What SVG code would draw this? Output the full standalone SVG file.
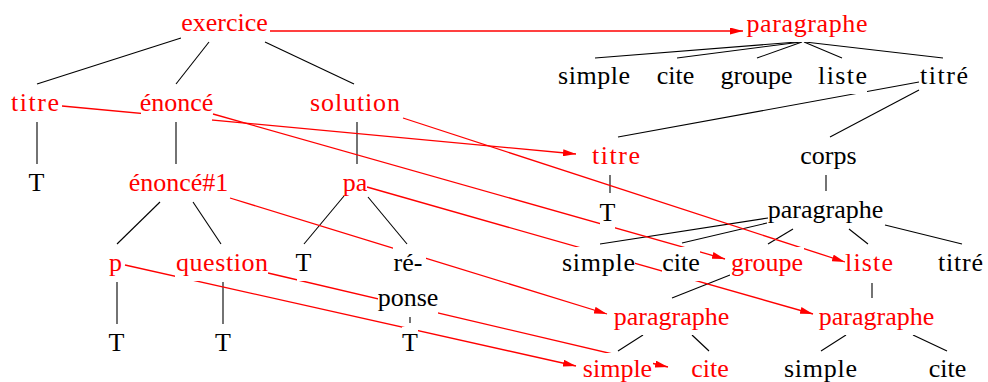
<svg xmlns="http://www.w3.org/2000/svg" width="988" height="382" viewBox="0 0 988 382">
<style>
text{font-family:"Liberation Serif","Times New Roman",serif;font-size:26px;text-anchor:middle;fill:#000}
.r{fill:#f00}
.bg{fill:#fff}
.e{stroke:#000;stroke-width:1.1;fill:none}
.a{stroke:#f00;stroke-width:1.3;fill:none;marker-end:url(#ah)}
</style>
<defs>
<marker id="ah" markerUnits="userSpaceOnUse" viewBox="0 0 13 7" refX="13" refY="3.5" markerWidth="13" markerHeight="7" orient="auto">
<path d="M0,0 L13,3.5 L0,7 z" fill="#f00"/>
</marker>
</defs>
<rect width="988" height="382" fill="#fff"/>
<g id="connectors">
<line class="e" x1="181" y1="38" x2="37" y2="84"/>
<line class="e" x1="209" y1="42" x2="176" y2="84"/>
<line class="e" x1="265" y1="42" x2="354" y2="84"/>
<line class="e" x1="797" y1="42" x2="595" y2="58"/>
<line class="e" x1="801" y1="42" x2="677" y2="58"/>
<line class="e" x1="802" y1="42" x2="757" y2="58"/>
<line class="e" x1="804" y1="42" x2="842" y2="58"/>
<line class="e" x1="805" y1="42" x2="943" y2="58"/>
<line class="e" x1="919" y1="82" x2="618" y2="137"/>
<line class="e" x1="919" y1="90" x2="830" y2="137"/>
<line class="e" x1="610" y1="175" x2="610" y2="193"/>
<line class="e" x1="826" y1="175" x2="826" y2="191"/>
<line class="e" x1="768" y1="218" x2="600" y2="244"/>
<line class="e" x1="767" y1="223" x2="682" y2="243"/>
<line class="e" x1="793" y1="229" x2="768" y2="244"/>
<line class="e" x1="849" y1="229" x2="868" y2="244"/>
<line class="e" x1="885" y1="225" x2="962" y2="244"/>
<line class="e" x1="730" y1="275" x2="672" y2="298"/>
<line class="e" x1="872" y1="283" x2="872" y2="298"/>
<line class="e" x1="643" y1="335" x2="618" y2="351"/>
<line class="e" x1="692" y1="335" x2="709" y2="351"/>
<line class="e" x1="846" y1="335" x2="821" y2="351"/>
<line class="e" x1="913" y1="335" x2="947" y2="351"/>
<line class="e" x1="37" y1="122" x2="37" y2="164"/>
<line class="e" x1="176" y1="122" x2="176" y2="164"/>
<line class="e" x1="357" y1="122" x2="357" y2="164"/>
<line class="e" x1="160" y1="202" x2="117" y2="244"/>
<line class="e" x1="193" y1="202" x2="221" y2="244"/>
<line class="e" x1="344" y1="196" x2="304" y2="244"/>
<line class="e" x1="368" y1="197" x2="407" y2="244"/>
<line class="e" x1="117" y1="282" x2="117" y2="324"/>
<line class="e" x1="223" y1="282" x2="223" y2="324"/>
<line class="e" x1="410" y1="317" x2="410" y2="323"/>
<line class="a" x1="270" y1="31" x2="743" y2="31"/>
<line class="a" x1="62" y1="106" x2="576" y2="154"/>
<line class="a" x1="213" y1="114" x2="725" y2="259"/>
<line class="a" x1="403" y1="118" x2="845" y2="262"/>
<line class="a" x1="230" y1="198" x2="607" y2="314"/>
<line class="a" x1="367" y1="187" x2="813" y2="314"/>
<line class="a" x1="125" y1="265" x2="576" y2="366"/>
<line class="a" x1="268" y1="273" x2="668" y2="367"/>
</g>
<g id="n-exercice"><rect class="bg" x="181" y="7" width="87" height="34"/><text class="r" x="224.5" y="31">exercice</text></g>
<g id="n-paragraphe0"><rect class="bg" x="746" y="8" width="122" height="34"/><text class="r" x="807" y="32" textLength="121" lengthAdjust="spacing">paragraphe</text></g>
<g id="n-titre"><rect class="bg" x="11" y="87" width="48" height="34"/><text class="r" x="35" y="111" textLength="48" lengthAdjust="spacing">titre</text></g>
<g id="n-enonce"><rect class="bg" x="141" y="87" width="71" height="34"/><text class="r" x="176.5" y="111">énoncé</text></g>
<g id="n-solution"><rect class="bg" x="310" y="87" width="90" height="34"/><text class="r" x="355" y="111" textLength="90" lengthAdjust="spacing">solution</text></g>
<g id="n-p0-simple"><rect class="bg" x="558" y="60" width="72" height="34"/><text x="594" y="84" textLength="72" lengthAdjust="spacing">simple</text></g>
<g id="n-p0-cite"><rect class="bg" x="657" y="60" width="37" height="34"/><text x="675.5" y="84">cite</text></g>
<g id="n-p0-groupe"><rect class="bg" x="720" y="60" width="73" height="34"/><text x="756.5" y="84">groupe</text></g>
<g id="n-p0-liste"><rect class="bg" x="818" y="60" width="49" height="34"/><text x="842.5" y="84" textLength="49" lengthAdjust="spacing">liste</text></g>
<g id="n-p0-titre"><rect class="bg" x="920" y="60" width="48" height="34"/><text x="944" y="84" textLength="48" lengthAdjust="spacing">titré</text></g>
<g id="n-titre2"><rect class="bg" x="592" y="140" width="48" height="34"/><text class="r" x="616" y="164" textLength="48" lengthAdjust="spacing">titre</text></g>
<g id="n-corps"><rect class="bg" x="800" y="140" width="57" height="34"/><text x="828.5" y="164">corps</text></g>
<g id="n-titre-T"><rect class="bg" x="28" y="167" width="17" height="34"/><text x="36.5" y="191">T</text></g>
<g id="n-enonce1"><rect class="bg" x="130" y="167" width="97" height="34"/><text class="r" x="178.5" y="191">énoncé#1</text></g>
<g id="n-pa"><rect class="bg" x="343" y="167" width="24" height="29"/><text class="r" x="355" y="191">pa</text></g>
<g id="n-titre2-T"><rect class="bg" x="600" y="197" width="15" height="34"/><text x="607.5" y="221">T</text></g>
<g id="n-paragraphe1"><rect class="bg" x="768" y="194" width="115" height="34"/><text x="825.5" y="218">paragraphe</text></g>
<g id="n-p"><rect class="bg" x="109" y="247" width="14" height="34"/><text class="r" x="115.5" y="271">p</text></g>
<g id="n-question"><rect class="bg" x="175" y="247" width="93" height="34"/><text class="r" x="222" y="271" textLength="92" lengthAdjust="spacing">question</text></g>
<g id="n-pa-T"><rect class="bg" x="297" y="247" width="13" height="34"/><text x="303.5" y="271">T</text></g>
<g id="n-reponse"><rect class="bg" x="393" y="247" width="33" height="34"/><rect class="bg" x="378" y="282" width="60" height="34"/><text x="408" y="271">ré-</text><text x="408" y="306">ponse</text></g>
<g id="n-p1-simple"><rect class="bg" x="562" y="247" width="73" height="34"/><text x="598.5" y="271" textLength="73" lengthAdjust="spacing">simple</text></g>
<g id="n-p1-cite"><rect class="bg" x="662" y="247" width="38" height="34"/><text x="681" y="271">cite</text></g>
<g id="n-groupe"><rect class="bg" x="730" y="247" width="74" height="34"/><text class="r" x="767" y="271">groupe</text></g>
<g id="n-liste"><rect class="bg" x="845" y="247" width="48" height="34"/><text class="r" x="869" y="271" textLength="48" lengthAdjust="spacing">liste</text></g>
<g id="n-p1-titre"><rect class="bg" x="938" y="247" width="45" height="34"/><text x="960.5" y="271" textLength="45" lengthAdjust="spacing">titré</text></g>
<g id="n-p-T"><rect class="bg" x="109" y="327" width="15" height="34"/><text x="116.5" y="351">T</text></g>
<g id="n-question-T"><rect class="bg" x="215" y="327" width="16" height="34"/><text x="223" y="351">T</text></g>
<g id="n-reponse-T"><rect class="bg" x="402" y="327" width="16" height="34"/><text x="410" y="351">T</text></g>
<g id="n-paragraphe2"><rect class="bg" x="613" y="301" width="117" height="34"/><text class="r" x="671.5" y="325">paragraphe</text></g>
<g id="n-paragraphe3"><rect class="bg" x="818" y="301" width="117" height="34"/><text class="r" x="876.5" y="325">paragraphe</text></g>
<g id="n-simple2"><rect class="bg" x="582" y="353" width="71" height="29"/><text class="r" x="617.5" y="377">simple</text></g>
<g id="n-cite2"><rect class="bg" x="691" y="353" width="38" height="29"/><text class="r" x="710" y="377">cite</text></g>
<g id="n-simple3"><rect class="bg" x="784" y="353" width="73" height="29"/><text x="820.5" y="377" textLength="73" lengthAdjust="spacing">simple</text></g>
<g id="n-cite3"><rect class="bg" x="928" y="353" width="39" height="29"/><text x="947.5" y="377">cite</text></g>
</svg>
